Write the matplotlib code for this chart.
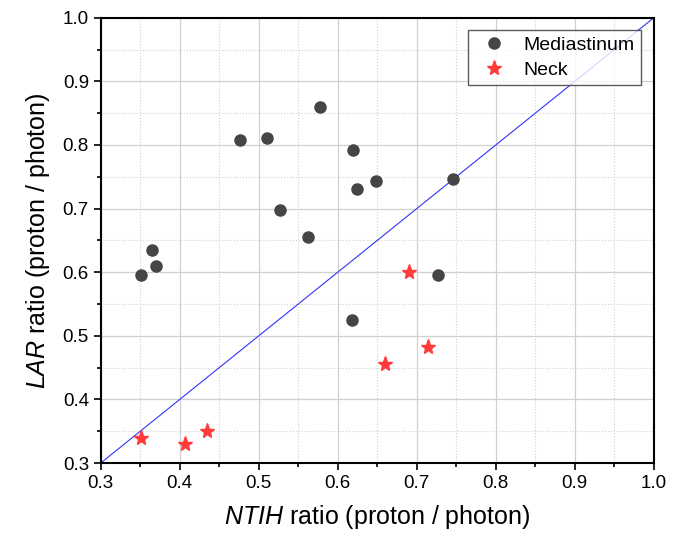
import matplotlib.pyplot as plt
from matplotlib.ticker import MultipleLocator

plt.rcParams['font.family'] = ['Liberation Sans', 'DejaVu Sans']
plt.rcParams['mathtext.fontset'] = 'custom'
plt.rcParams['mathtext.it'] = 'Liberation Sans:italic'

med_x = [0.476, 0.511, 0.577, 0.619, 0.624, 0.649, 0.746, 0.527, 0.562,
         0.365, 0.370, 0.351, 0.727, 0.618]
med_y = [0.808, 0.811, 0.859, 0.792, 0.731, 0.743, 0.747, 0.698, 0.656,
         0.635, 0.609, 0.595, 0.595, 0.525]
neck_x = [0.690, 0.714, 0.660, 0.351, 0.406, 0.434]
neck_y = [0.601, 0.482, 0.455, 0.339, 0.330, 0.351]

fig = plt.figure(figsize=(6.81, 5.39), dpi=100)
ax = fig.add_axes([0.148, 0.141, 0.812, 0.826])

ax.plot([0.3, 1.0], [0.3, 1.0], color='#3333ff', lw=0.8, zorder=2)
ax.plot(med_x, med_y, 'o', color='#454545', ms=8, label='Mediastinum', zorder=3)
ax.plot(neck_x, neck_y, '*', color='#ff3b3b', ms=11, label='Neck', zorder=3)

ax.set_xlim(0.3, 1.0)
ax.set_ylim(0.3, 1.0)
ax.xaxis.set_major_locator(MultipleLocator(0.1))
ax.xaxis.set_minor_locator(MultipleLocator(0.05))
ax.yaxis.set_major_locator(MultipleLocator(0.1))
ax.yaxis.set_minor_locator(MultipleLocator(0.05))
ax.grid(which='major', color='#d0d0d0', lw=0.9)
ax.grid(which='minor', color='#d0d0d0', lw=0.8, ls=':')
ax.set_axisbelow(True)

ax.tick_params(which='major', direction='out', length=5, width=1.2, labelsize=13.5)
ax.tick_params(which='minor', direction='out', length=3, width=1.2)
for s in ax.spines.values():
    s.set_linewidth(1.5)

ax.set_xlabel(r'$\it{NTIH}$ ratio (proton / photon)', fontsize=18, labelpad=8)
ax.set_ylabel(r'$\it{LAR}$ ratio (proton / photon)', fontsize=18, labelpad=8)

leg = ax.legend(loc='upper right', fontsize=14, frameon=True, fancybox=False,
                edgecolor='#333333', handletextpad=0.5, borderpad=0.35,
                labelspacing=0.35, bbox_to_anchor=(0.995, 0.995))
leg.get_frame().set_linewidth(1.0)

fig.savefig('out.png', dpi=100)
